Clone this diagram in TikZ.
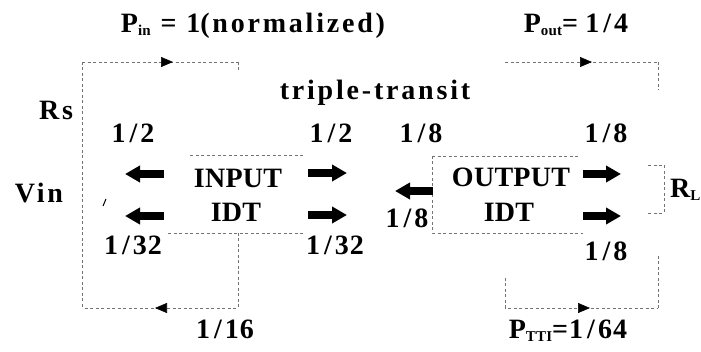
\documentclass[tikz,border=0pt]{standalone}
\usepackage{fontspec}
\setmainfont{Liberation Serif}
\newfontfamily\capface{Liberation Serif}[LetterSpace=1]
\newfontfamily\wordface{Liberation Serif}[LetterSpace=10]
\newfontfamily\numface{Liberation Serif}[LetterSpace=4]
\newcommand\smallsub[1]{\raisebox{-3pt}{\fontsize{15}{15}\selectfont\bfseries #1}}
% fraction slash with open spacing on both sides
\newcommand\fsl{\kern4pt/\kern3pt}
\usetikzlibrary{arrows.meta,decorations.markings}

\begin{document}
\begin{tikzpicture}[x=1pt,y=-1pt,
  lbl/.style={font=\fontsize{28}{28}\selectfont\bfseries, anchor=base, inner sep=0pt},
  wire/.style={draw=black!55, line width=0.6pt, dash pattern=on 3pt off 2.5pt},
  flow/.style={wire, postaction=decorate,
    decoration={markings, mark=at position #1 with {\arrow{Triangle[length=12pt,width=10pt,black]}}}},
  fat/.style={line width=8pt, -{Triangle[length=15pt,width=16pt]}}]
\useasboundingbox[fill=white] (0,0) rectangle (701,352);

% ---- corner points of the input loop and box
\coordinate (iTL) at (82,62);
\coordinate (iTR) at (238,62);
\coordinate (iTRd) at (238,72);
\coordinate (iBL) at (82,308);
\coordinate (iBR) at (238,308);
\coordinate (iMid) at (238,233);
\coordinate (ibxTL) at (190,155);
\coordinate (ibxTR) at (305,155);
\coordinate (ibxBL) at (168,233);
\coordinate (ibxBR) at (305,233);

% ---- corner points of the output loop and box
\coordinate (oTL) at (505,62);
\coordinate (oTR) at (658,62);
\coordinate (oTRd) at (658,90);
\coordinate (oBLu) at (505,278);
\coordinate (oBL) at (505,308);
\coordinate (oBR) at (658,308);
\coordinate (oBRu) at (658,256);
\coordinate (obxTL) at (432,156);
\coordinate (obxTR) at (578,156);
\coordinate (obxBL) at (432,233);
\coordinate (obxBR) at (583,233);

% ---- load resistor bracket
\coordinate (rA) at (648,165);
\coordinate (rB) at (664,165);
\coordinate (rC) at (664,213);
\coordinate (rD) at (648,213);

% ---- wiring
\draw[flow=91pt] (iTL) -- (iTR);
\draw[wire] (iTR) -- (iTRd);
\draw[wire] (iTL) -- (iBL);
\draw[flow=158pt] (iMid) -- (iBR) -- (iBL);
\draw[wire] (ibxTL) -- (ibxTR);
\draw[wire] (ibxBL) -- (ibxBR);
\draw[wire] (obxTL) -- (obxTR);
\draw[wire] (obxTL) -- (obxBL) -- (obxBR);
\draw[flow=87pt] (oTL) -- (oTR);
\draw[wire] (oTR) -- (oTRd);
\draw[flow=115pt] (oBLu) -- (oBL) -- (oBR);
\draw[wire] (oBRu) -- (oBR);
\draw[wire] (rA) -- (rB) -- (rC) -- (rD);
\coordinate (vA) at (103,206);
\coordinate (vB) at (106,199);
\draw[line width=1pt] (vA) -- (vB);

% ---- acoustic power arrows
\coordinate (a1s) at (164,174); \coordinate (a1e) at (125,174);
\coordinate (a2s) at (164,216); \coordinate (a2e) at (125,216);
\coordinate (a3s) at (308,173); \coordinate (a3e) at (347,173);
\coordinate (a4s) at (308,215); \coordinate (a4e) at (347,215);
\coordinate (a5s) at (433,191); \coordinate (a5e) at (395,191);
\coordinate (a6s) at (583,174); \coordinate (a6e) at (621,174);
\coordinate (a7s) at (583,216); \coordinate (a7e) at (621,216);
\foreach \s/\e in {a1s/a1e,a2s/a2e,a3s/a3e,a4s/a4e,a5s/a5e,a6s/a6e,a7s/a7e}
  \draw[fat] (\s) -- (\e);

% ---- labels
\node[lbl] (pin) at (253,33) {\capface P\smallsub{in}\wordface{} = \numface 1\wordface(normalized)};
\node[lbl] (pout) at (576,33) {\capface P\smallsub{out}= \numface 1\fsl 4};
\node[lbl] (tt) at (375,100) {\wordface triple-transit};
\node[lbl] (rs) at (56,120) {\wordface Rs};
\node[lbl] (h1) at (133,143) {\numface 1\fsl 2};
\node[lbl] (h2) at (331,143) {\numface 1\fsl 2};
\node[lbl] (e1) at (421,143) {\numface 1\fsl 8};
\node[lbl] (e2) at (606,143) {\numface 1\fsl 8};
\node[lbl] (in1) at (238,188) {\capface INPUT};
\node[lbl] (in2) at (236,222) {\capface IDT};
\node[lbl] (out1) at (511,187) {\capface OUTPUT};
\node[lbl] (out2) at (509,222) {\capface IDT};
\node[lbl] (vin) at (39,203) {\wordface Vin};
\node[lbl,anchor=base west] (rl) at (670,198) {\capface R\smallsub{L}};
\node[lbl] (t1) at (133,255) {\numface 1\fsl 32};
\node[lbl] (t2) at (335,255) {\numface 1\fsl 32};
\node[lbl] (e3) at (407,228) {\numface 1\fsl 8};
\node[lbl] (e4) at (606,261) {\numface 1\fsl 8};
\node[lbl] (s16) at (225,338) {\numface 1\fsl 16};
\node[lbl] (ptt) at (568,338) {\capface P\smallsub{TTI}\numface =1\fsl 64};
\end{tikzpicture}
\end{document}
